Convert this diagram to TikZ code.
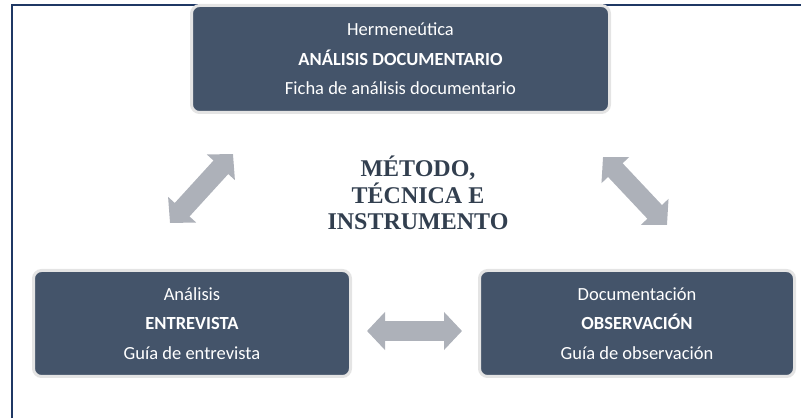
\documentclass[tikz,border=0pt]{standalone}
\usepackage{fontspec}
\newfontfamily\boxfont{Carlito}
\newfontfamily\titlefont{Liberation Serif}
\usepackage{xcolor}
\usetikzlibrary{arrows.meta, calc, positioning}
\definecolor{boxfill}{HTML}{44546A}
\definecolor{rimgray}{HTML}{E4E4E4}
\definecolor{arrowgray}{HTML}{ADB1B9}
\definecolor{framenavy}{HTML}{1F3864}
\definecolor{titleslate}{HTML}{323F4F}

\begin{document}
\begin{tikzpicture}[x=1pt, y=1pt,
  methodbox/.style={draw=rimgray, line width=3pt, fill=boxfill, rounded corners=8pt,
    text=white, align=center, font=\boxfont\fontsize{18.5}{29.5}\selectfont, inner sep=0pt},
  blockarrow/.style={arrowgray, line width=20pt,
    {Triangle[length=18pt, width=37pt]}-{Triangle[length=18pt, width=37pt]}},
  titletext/.style={titleslate, align=center, font=\titlefont\bfseries\fontsize{24}{26.5}\selectfont}]
\useasboundingbox (0,0) rectangle (801,418);

% Frame
\draw[framenavy, line width=2pt] (12,0) -- (12,413) -- (801,413);

% Boxes
\node[methodbox, minimum width=418pt, minimum height=107pt] (herm) at (400.5,359) {Hermeneútica\\\textbf{ANÁLISIS DOCUMENTARIO}\\Ficha de análisis documentario};
\node[methodbox, minimum width=317pt, minimum height=106pt] (entr) at (192,94.5) {Análisis\\\textbf{ENTREVISTA}\\Guía de entrevista};
\node[methodbox, minimum width=315pt, minimum height=106pt] (obse) at (637,94.5) {Documentación\\\textbf{OBSERVACIÓN}\\Guía de observación};

% Centre title
\node[titletext] (title) at (418,225) {MÉTODO,\\TÉCNICA E\\INSTRUMENTO};

% Arrows
\draw[blockarrow] ([shift={(43,-40)}]herm.south west) -- ([shift={(-22,46)}]entr.north);
\draw[blockarrow] ([shift={(-8,-43)}]herm.south east) -- ([shift={(30,44)}]obse.north);
\draw[blockarrow] ([shift={(15,-7.5)}]entr.east) -- ([shift={(-16,-7.5)}]obse.west);
\end{tikzpicture}
\end{document}
